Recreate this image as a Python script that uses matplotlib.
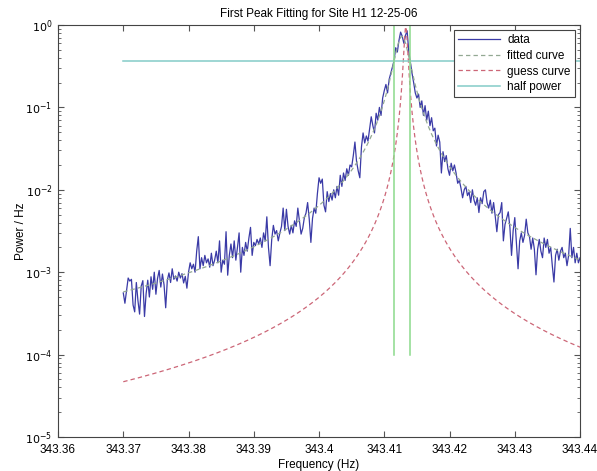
import numpy as np
import matplotlib
matplotlib.use("Agg")
import matplotlib.pyplot as plt
from matplotlib.ticker import FixedLocator, FixedFormatter, LogLocator, NullFormatter

plt.rcParams['font.family'] = ['Liberation Sans', 'DejaVu Sans']

# ---- measured spectrum (power per Hz), sampled every 0.00025 Hz from 343.37 Hz ----
F_START = 343.37
F_STEP = 0.00025
power = [
    5.6e-4, 4.2e-4, 6.0e-4, 8.5e-4, 7.8e-4, 8.2e-4, 4.0e-4, 3.3e-4, 7.5e-4, 4.5e-4,
    3.1e-4, 6.8e-4, 7.9e-4, 2.9e-4, 5.5e-4, 8.0e-4, 5.0e-4, 8.8e-4, 6.2e-4, 1.0e-3,
    5.4e-4, 8.4e-4, 1.05e-3, 6.6e-4, 9.5e-4, 7.0e-4, 3.7e-4, 8.0e-4, 9.8e-4, 7.5e-4,
    1.1e-3, 8.2e-4, 9.0e-4, 7.8e-4, 1.0e-3, 8.5e-4, 9.6e-4, 7.4e-4, 8.9e-4, 6.4e-4,
    1.0e-3, 1.3e-3, 1.1e-3, 1.25e-3, 1.0e-3, 1.8e-3, 2.7e-3, 1.1e-3, 1.5e-3, 1.2e-3,
    1.6e-3, 1.3e-3, 1.45e-3, 1.15e-3, 1.7e-3, 1.2e-3, 1.4e-3, 1.8e-3, 1.3e-3, 2.4e-3,
    1.0e-3, 1.4e-3, 1.25e-3, 3.1e-3, 9.2e-4, 1.6e-3, 2.2e-3, 1.5e-3, 2.4e-3, 1.4e-3,
    2.0e-3, 3.0e-3, 1.0e-3, 2.0e-3, 1.6e-3, 2.3e-3, 1.8e-3, 2.6e-3, 3.5e-3, 1.6e-3,
    2.3e-3, 2.1e-3, 2.5e-3, 2.2e-3, 2.6e-3, 2.0e-3, 3.0e-3, 2.4e-3, 4.7e-3, 2.0e-3,
    1.2e-3, 2.5e-3, 3.7e-3, 2.9e-3, 3.2e-3, 2.4e-3, 3.0e-3, 3.6e-3, 6.0e-3, 3.2e-3,
    5.8e-3, 3.6e-3, 2.9e-3, 3.7e-3, 3.0e-3, 4.2e-3, 3.6e-3, 6.0e-3, 4.2e-3, 2.9e-3,
    3.4e-3, 4.6e-3, 5.2e-3, 7.0e-3, 4.4e-3, 2.3e-3, 4.5e-3, 6.0e-3, 5.2e-3, 9.0e-3,
    1.4e-2, 1.2e-2, 1.35e-2, 6.5e-3, 5.4e-3, 9.5e-3, 7.2e-3, 9.0e-3, 7.5e-3, 1.0e-2,
    8.0e-3, 1.1e-2, 8.6e-3, 1.5e-2, 1.1e-2, 1.6e-2, 1.3e-2, 1.8e-2, 1.5e-2, 2.0e-2,
    1.9e-2, 2.6e-2, 3.8e-2, 2.2e-2, 1.7e-2, 1.4e-2, 3.3e-2, 4.9e-2, 3.7e-2, 4.5e-2,
    3.9e-2, 5.5e-2, 7.7e-2, 6.0e-2, 4.9e-2, 8.5e-2, 7.0e-2, 1.0e-1, 8.0e-2, 1.3e-1,
    1.6e-1, 1.9e-1, 1.5e-1, 2.2e-1, 2.6e-1, 3.1e-1, 3.7e-1, 5.3e-1, 4.7e-1, 6.5e-1,
    8.2e-1, 7.3e-1, 6.0e-1, 7.5e-1, 8.5e-1, 4.8e-1, 3.5e-1, 2.6e-1, 2.0e-1, 1.5e-1,
    1.3e-1, 1.45e-1, 1.0e-1, 1.2e-1, 8.0e-2, 1.05e-1, 7.0e-2, 9.0e-2, 6.0e-2, 7.5e-2,
    5.2e-2, 5.6e-2, 3.4e-2, 4.6e-2, 3.8e-2, 1.6e-2, 2.9e-2, 2.2e-2, 2.6e-2, 1.8e-2,
    1.5e-2, 2.1e-2, 1.7e-2, 2.0e-2, 1.6e-2, 1.2e-2, 1.3e-2, 1.05e-2, 8.0e-3, 1.0e-2,
    1.1e-2, 8.5e-3, 9.4e-3, 7.0e-3, 1.0e-2, 7.5e-3, 6.5e-3, 8.0e-3, 5.3e-3, 8.0e-3,
    6.8e-3, 9.5e-3, 1.0e-2, 7.0e-3, 6.0e-3, 7.5e-3, 5.2e-3, 7.0e-3, 4.8e-3, 3.1e-3,
    5.0e-3, 5.3e-3, 7.0e-3, 2.4e-3, 3.8e-3, 4.5e-3, 5.4e-3, 3.5e-3, 1.6e-3, 3.2e-3,
    4.6e-3, 2.2e-3, 1.1e-3, 2.4e-3, 3.0e-3, 2.3e-3, 2.8e-3, 4.4e-3, 3.0e-3, 2.7e-3,
    1.9e-3, 2.6e-3, 1.9e-3, 9.3e-4, 1.9e-3, 2.5e-3, 1.8e-3, 1.5e-3, 2.6e-3, 2.0e-3,
    2.5e-3, 1.7e-3, 2.0e-3, 1.2e-3, 7.6e-4, 1.6e-3, 1.9e-3, 1.4e-3, 1.8e-3, 2.0e-3,
    1.5e-3, 1.7e-3, 1.2e-3, 1.6e-3, 3.4e-3, 1.5e-3, 2.0e-3, 1.3e-3, 1.7e-3, 1.3e-3,
    1.5e-3,
]

# ---- Lorentzian parameters: fitted and initial guess ----
fit_peak = 0.73
fit_center = 343.4127
fit_halfwidth = 0.0012
guess_peak = 0.95
guess_center = 343.4133
guess_halfwidth = 0.000304

# ---- half-power level and the two half-power frequencies ----
half_power = 0.365
half_power_freqs = [343.4115, 343.4139]
half_power_span = [1e-4, 1.0]

x_ticks = [343.36, 343.37, 343.38, 343.39, 343.40, 343.41, 343.42, 343.43, 343.44]
x_tick_labels = ['343.36', '343.37', '343.38', '343.39', '343.4',
                 '343.41', '343.42', '343.43', '343.44']
y_ticks = [1e-5, 1e-4, 1e-3, 1e-2, 1e-1, 1e0]
y_tick_labels = [r'$10^{-5}$', r'$10^{-4}$', r'$10^{-3}$', r'$10^{-2}$',
                 r'$10^{-1}$', r'$10^{0}$']

power = np.array(power)
freq = F_START + F_STEP * np.arange(len(power))


def lorentzian(f, peak, center, halfwidth):
    return peak / (1.0 + ((f - center) / halfwidth) ** 2)


fit_curve = lorentzian(freq, fit_peak, fit_center, fit_halfwidth)
guess_fine = np.linspace(freq[0], freq[-1], 3000)
guess_curve = lorentzian(guess_fine, guess_peak, guess_center, guess_halfwidth)

fig = plt.figure(figsize=(5.97, 4.71), dpi=100)
ax = fig.add_axes([0.0972, 0.0722, 0.8744, 0.8747])

ax.plot(freq, power, color='#3a3aa6', lw=0.9, label='data')
ax.plot(freq, fit_curve, color='#93a893', lw=0.9, ls=(0, (3.5, 2.5)), label='fitted curve')
ax.plot(guess_fine, guess_curve, color='#cc6677', lw=0.9, ls=(0, (3.5, 2.5)), label='guess curve')
ax.plot([freq[0], freq[-1]], [half_power, half_power], color='#84ccc8', lw=1.1, label='half power')
for hf in half_power_freqs:
    ax.plot([hf, hf], half_power_span, color='#8cda8c', lw=1.1, label='_nolegend_')

ax.set_yscale('log')
ax.set_xlim(343.36, 343.44)
ax.set_ylim(1e-5, 1e0)

ax.xaxis.set_major_locator(FixedLocator(x_ticks))
ax.xaxis.set_major_formatter(FixedFormatter(x_tick_labels))
ax.yaxis.set_major_locator(FixedLocator(y_ticks))
ax.yaxis.set_major_formatter(FixedFormatter(y_tick_labels))
ax.yaxis.set_minor_locator(LogLocator(base=10, subs=np.arange(2, 10)))
ax.yaxis.set_minor_formatter(NullFormatter())

ax.tick_params(which='both', direction='in', top=True, right=True,
               labelsize=8.5, color='#555555')
ax.tick_params(axis='x', pad=5)
ax.tick_params(axis='y', pad=4, labelsize=8)
ax.tick_params(which='major', length=4)
ax.tick_params(which='minor', length=2)
for s in ax.spines.values():
    s.set_color('#444444')
    s.set_linewidth(0.8)

ax.set_title('First Peak Fitting for Site H1 12-25-06', fontsize=8.5, pad=6)
ax.set_xlabel('Frequency (Hz)', fontsize=8.5, labelpad=2)
ax.set_ylabel('Power / Hz', fontsize=8.5)
ax.yaxis.set_label_coords(-0.06, 0.5)

leg = ax.legend(loc='upper right', fontsize=8.5, fancybox=False, framealpha=1,
                edgecolor='#444444', borderaxespad=0.45, handlelength=3.6,
                handletextpad=0.6, labelspacing=0.3, borderpad=0.35)
leg.get_frame().set_linewidth(0.8)

fig.savefig('out.png', dpi=100)
